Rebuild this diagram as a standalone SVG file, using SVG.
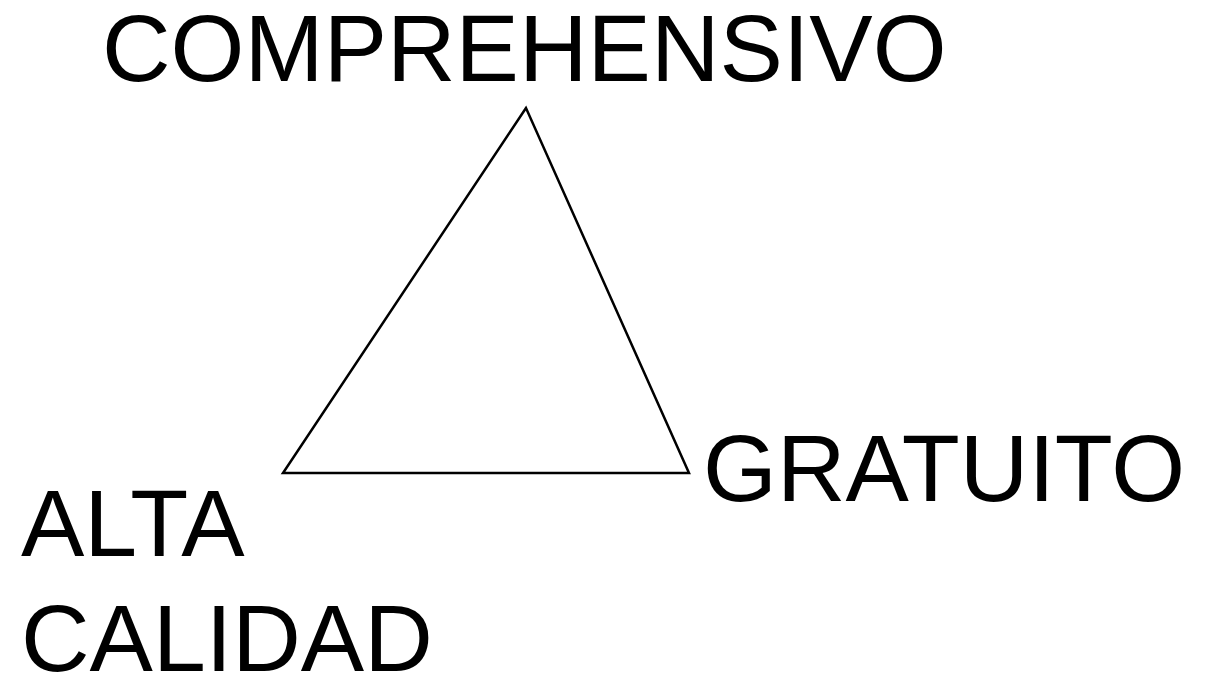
<svg xmlns="http://www.w3.org/2000/svg" width="1212" height="673" viewBox="0 0 1212 673">
<style>
.t{font-family:"Liberation Sans",Arial,sans-serif;font-size:95px;fill:#000}
</style>
<rect width="1212" height="673" fill="#fff"/>
<g id="triangle">
<polygon points="526,108 283,473 689,473" fill="none" stroke="#000" stroke-width="2.5"/>
</g>
<g id="comprehensivo"><text class="t" x="102" y="81">COMPREHENSIVO</text></g>
<g id="gratuito"><text class="t" x="703" y="501">GRATUITO</text></g>
<g id="alta-calidad"><text class="t" x="21" y="556">ALTA</text><text class="t" x="21" y="671">CALIDAD</text></g>
</svg>
